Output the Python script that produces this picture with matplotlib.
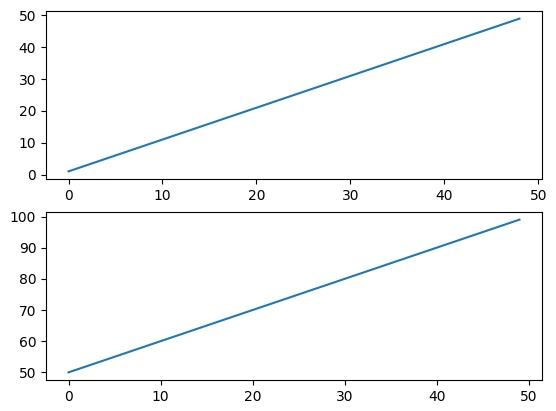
import matplotlib
matplotlib.use("Agg")
import matplotlib.pyplot as plt

# top panel: first and last points of the line
top_x = [0, 48]
top_y = [1, 49]

# bottom panel
bottom_x = [0, 49]
bottom_y = [50, 99]

fig = plt.figure(figsize=(5.56, 4.11), dpi=100)

ax1 = fig.add_axes([46 / 556, 1 - 179 / 411, 496 / 556, 168 / 411])
ax1.plot(top_x, top_y)

ax2 = fig.add_axes([46 / 556, 1 - 380 / 411, 496 / 556, 168 / 411])
ax2.plot(bottom_x, bottom_y)

fig.savefig("out.png", dpi=100)
